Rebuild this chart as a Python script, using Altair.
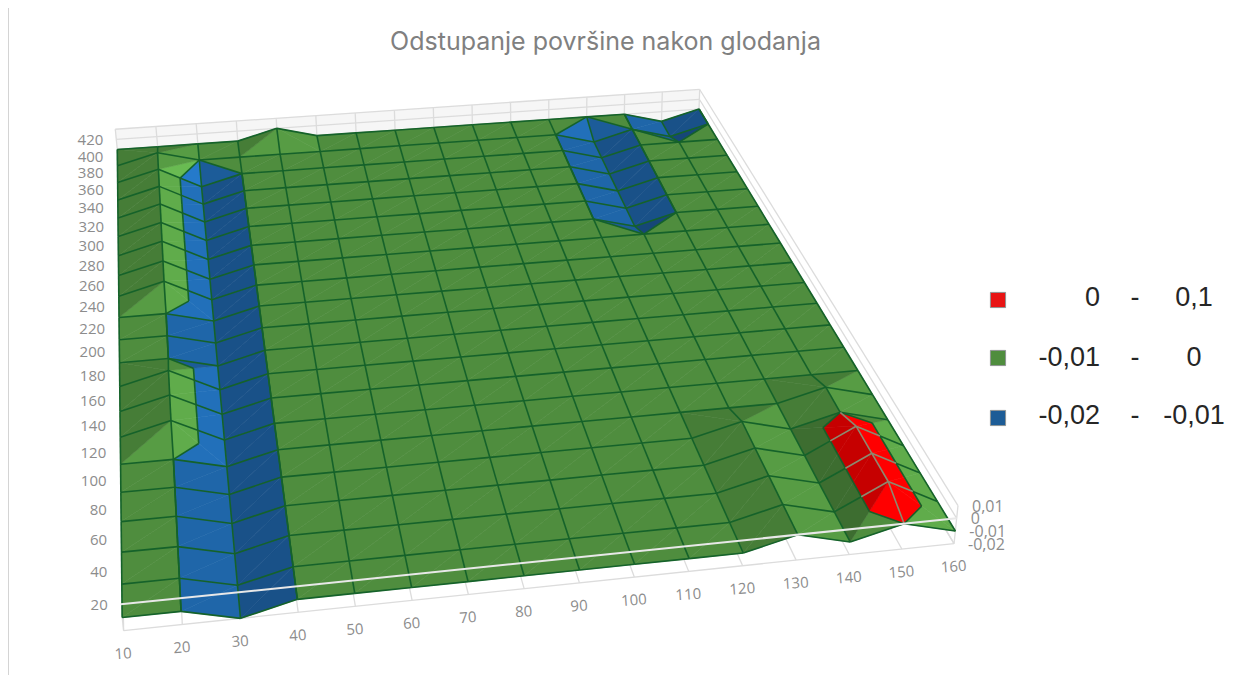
import altair as alt
import numpy as np

# ---------- data ----------
title_text = "Odstupanje površine nakon glodanja"
x_values = [10, 20, 30, 40, 50, 60, 70, 80, 90, 100, 110, 120, 130, 140, 150, 160]
y_values = [20, 40, 60, 80, 100, 120, 140, 160, 180, 200, 220, 240, 260, 280, 300, 320, 340, 360, 380, 400, 420]
z_ticks = [0.01, 0, -0.01, -0.02]
z_labels = ["0,01", "0", "-0,01", "-0,02"]
legend_low = ["0", "-0,01", "-0,02"]
legend_high = ["0,1", "0", "-0,01"]

# deviation in hundredths of a unit: columns x=10..160, one row per y (20 first)
z_020 = [-1, -1, -2, -1, -1, -1, -1, -1, -1, -1, -1, -1, 0, -1, 0, -1]
z_040 = [-1, -1, -2, -1, -1, -1, -1, -1, -1, -1, -1, -1, 0, -1, 1, -1]
z_060 = [-1, -1, -2, -1, -1, -1, -1, -1, -1, -1, -1, -1, 0, -1, 1, -1]
z_080 = [-1, -1, -2, -1, -1, -1, -1, -1, -1, -1, -1, -1, 0, -1, 1, -1]
z_100 = [-1, -1, -2, -1, -1, -1, -1, -1, -1, -1, -1, -1, 0, -1, 0, -1]
z_120 = [-1, -1, -2, -1, -1, -1, -1, -1, -1, -1, -1, -1, -1, -1, 0, -1]
z_140 = [-1, 0, -2, -1, -1, -1, -1, -1, -1, -1, -1, -1, -1, -1, -1, -1]
z_160 = [-1, 0, -2, -1, -1, -1, -1, -1, -1, -1, -1, -1, -1, -1, -1, -1]
z_180 = [-1, 0, -2, -1, -1, -1, -1, -1, -1, -1, -1, -1, -1, -1, -1, -1]
z_200 = [-1, -1, -2, -1, -1, -1, -1, -1, -1, -1, -1, -1, -1, -1, -1, -1]
z_220 = [-1, -1, -2, -1, -1, -1, -1, -1, -1, -1, -1, -1, -1, -1, -1, -1]
z_240 = [-1, -1, -2, -1, -1, -1, -1, -1, -1, -1, -1, -1, -1, -1, -1, -1]
z_260 = [-1, 0, -2, -1, -1, -1, -1, -1, -1, -1, -1, -1, -1, -1, -1, -1]
z_280 = [-1, 0, -2, -1, -1, -1, -1, -1, -1, -1, -1, -1, -1, -1, -1, -1]
z_300 = [-1, 0, -2, -1, -1, -1, -1, -1, -1, -1, -1, -1, -2, -1, -1, -1]
z_320 = [-1, 0, -2, -1, -1, -1, -1, -1, -1, -1, -1, -1, -2, -1, -1, -1]
z_340 = [-1, 0, -2, -1, -1, -1, -1, -1, -1, -1, -1, -1, -2, -1, -1, -1]
z_360 = [-1, 0, -2, -1, -1, -1, -1, -1, -1, -1, -1, -1, -2, -1, -1, -1]
z_380 = [-1, 0, -2, -1, -1, -1, -1, -1, -1, -1, -1, -1, -2, -1, -1, -1]
z_400 = [-1, 0, -1, -1, -1, -1, -1, -1, -1, -1, -1, -1, -2, -1, -2, -1]
z_420 = [-1, -1, -1, -1, 0, -1, -1, -1, -1, -1, -1, -1, -1, -1, -2, -1]
z_rows = [z_020, z_040, z_060, z_080, z_100, z_120, z_140, z_160, z_180, z_200, z_220,
          z_240, z_260, z_280, z_300, z_320, z_340, z_360, z_380, z_400, z_420]

# ---------- perspective camera, fitted to sighted (column, row, z) -> page pixel pairs ----------
sight_3d = [(0, 0, -2), (0, 0, 0), (15, 0, -2), (15, 0, 1), (15, 20, 1), (15, 20, -1), (0, 20, 1), (0, 20, -1),
            (1, 0, -1), (3, 0, -1), (2, 0, -2), (1, 5, -1), (12, 20, -1), (14, 20, -2), (13, 0, -1), (11, 0, -1),
            (12, 14, -2), (1, 19, 0)]
sight_px = [(124, 630), (122, 605), (955, 543), (958, 505), (700, 89), (698, 109), (115, 129), (117, 149),
            (181, 612), (297, 600), (240, 618), (173, 459), (587, 118), (662, 122), (850, 543), (742, 553),
            (635, 225), (158, 153)]
A, b = [], []
for (i, j, k), (u, v) in zip(sight_3d, sight_px):
    A.append([i, j, k, 1, 0, 0, 0, 0, -u * i, -u * j, -u * k]); b.append(u)
    A.append([0, 0, 0, 0, i, j, k, 1, -v * i, -v * j, -v * k]); b.append(v)
sol = np.linalg.lstsq(np.array(A, float), np.array(b, float), rcond=None)[0]
P = np.append(sol, 1.0).reshape(3, 4)


def project(i, j, k):
    p = P @ np.array([i, j, k, 1.0])
    return float(p[0] / p[2]) - 8, float(p[1] / p[2]) - 8


# ---------- surface: split cells, cut into colour bands ----------
bands = [(-99, -1, (28.5, 92, 153)), (-1, 0, (79, 141, 62)), (0, 99, (255, 0, 0))]


def clip(poly, level, keep_above):
    out = []
    for n, p in enumerate(poly):
        q = poly[(n + 1) % len(poly)]
        pin = p[2] >= level if keep_above else p[2] <= level
        qin = q[2] >= level if keep_above else q[2] <= level
        if pin:
            out.append(p)
        if pin != qin and p[2] != level and q[2] != level:
            t = (level - p[2]) / (q[2] - p[2])
            out.append(tuple(p[m] + t * (q[m] - p[m]) for m in range(3)))
    return out


def shade(rgb, f):
    return "#%02x%02x%02x" % tuple(int(min(255, max(0, c * f))) for c in rgb)


features = []
seg_id = 0
lines = []


def add_line(points, colour, group):
    global seg_id
    seg_id += 1
    for o, pt in enumerate(points):
        x, y = project(*pt)
        lines.append({"id": seg_id, "o": o, "px": x, "py": y, "c": colour, "g": group})


contours = []
for j in range(len(y_values) - 2, -1, -1):
    for i in range(len(x_values) - 2, -1, -1):
        a = (i, j, z_rows[j][i]); b_ = (i + 1, j, z_rows[j][i + 1])
        c = (i + 1, j + 1, z_rows[j + 1][i + 1]); d = (i, j + 1, z_rows[j + 1][i])
        if a[2] + c[2] >= b_[2] + d[2]:
            tris = [(a, b_, c), (a, c, d)]
        else:
            tris = [(a, b_, d), (b_, c, d)]
        for tri in tris:
            # plane gradient of the triangle
            M = np.array([[t[0], t[1], 1.0] for t in tri])
            gx, gy, _ = np.linalg.solve(M, np.array([t[2] for t in tri], float))
            f = 1 - 0.11 * (gx - gy)
            zs = [t[2] for t in tri]
            for lo, hi, rgb in bands:
                if max(zs) == min(zs):
                    if lo != -1:
                        continue
                    piece = list(tri)
                else:
                    if max(zs) <= lo or min(zs) >= hi:
                        continue
                    piece = clip(clip(list(tri), lo, True), hi, False)
                if len(piece) < 3:
                    continue
                ring = [list(project(*p)) for p in piece]
                ring.append(ring[0])
                features.append({"type": "Feature", "properties": {"fill": shade(rgb, f)},
                                 "geometry": {"type": "Polygon", "coordinates": [ring]}})
                if lo != -1:
                    level = hi if lo == -99 else lo
                    for n, p in enumerate(piece):
                        q = piece[(n + 1) % len(piece)]
                        if p[2] == level and q[2] == level:
                            contours.append((p, q))

GRID_GREEN = "#15622a"
GRID_RED = "#8c8a70"


def add_edge(p, q):
    if p[2] > q[2]:
        p, q = q, p
    if p[2] < 0 < q[2]:
        t = -p[2] / (q[2] - p[2])
        m = tuple(p[n] + t * (q[n] - p[n]) for n in range(3))
        add_line([p, m], GRID_GREEN, "grid")
        add_line([m, q], GRID_RED, "grid")
    elif q[2] > 0:
        add_line([p, q], GRID_RED, "grid")
    else:
        add_line([p, q], GRID_GREEN, "grid")


for p, q in contours:
    add_line([p, q], GRID_GREEN, "grid")
for j in range(len(y_values)):
    for i in range(len(x_values) - 1):
        add_edge((i, j, z_rows[j][i]), (i + 1, j, z_rows[j][i + 1]))
for i in range(len(x_values)):
    for j in range(len(y_values) - 1):
        add_edge((i, j, z_rows[j][i]), (i, j + 1, z_rows[j + 1][i]))

# ---------- box behind the surface ----------
nx, ny = len(x_values) - 1, len(y_values) - 1
BOX = "#dcdcdc"
back_ring = [list(project(*p)) for p in [(0, ny, -2), (nx, ny, -2), (nx, ny, 1), (0, ny, 1)]]
back_ring.append(back_ring[0])
wall = [{"type": "Feature", "properties": {"fill": "#f6f6f6"},
         "geometry": {"type": "Polygon", "coordinates": [back_ring]}}]
for k in (-2, -1, 0, 1):
    add_line([(0, ny, k), (nx, ny, k)], BOX, "box")
    add_line([(nx, ny, k), (nx, 0, k)], BOX, "box")
for i in range(nx + 1):
    add_line([(i, ny, -2), (i, ny, 1)], BOX, "box")
    add_line([(i, 0, -2), (i, ny, -2)], BOX, "box")
add_line([(0, 0, -2), (nx, 0, -2)], BOX, "box")
add_line([(nx, 0, -2), (nx, 0, 1)], BOX, "box")
add_line([(0, 0, -2), (0, 0, -1)], BOX, "box")
add_line([(0, 0, 0), (nx, 0, 0)], "#e8e8e8", "front")

# ---------- chart ----------
W, H = 1223, 667
sx = alt.Scale(domain=[0, W], range=[0, W])
sy = alt.Scale(domain=[0, H], range=[0, H])
X = alt.X("px:Q", scale=sx, axis=None)
Y = alt.Y("py:Q", scale=sy, axis=None)


def polys(values):
    return alt.Chart(alt.Data(values=values)).mark_geoshape(strokeWidth=0.6).encode(
        fill=alt.Fill("properties.fill:N", scale=None),
        stroke=alt.Stroke("properties.fill:N", scale=None),
    ).project(type="identity", scale=1, translate=[0, 0])


def line_layer(group, width):
    vals = [r for r in lines if r["g"] == group]
    return alt.Chart(alt.Data(values=vals)).mark_line(strokeWidth=width, interpolate="linear").encode(
        x=X, y=Y, detail="id:N", order="o:Q", color=alt.Color("c:N", scale=None))


GREY = "#8c8c8c"
LABEL_FONT = "Open Sans"
x_tx = [dict(zip(("px", "py"), project(i, 0, -2)), t=str(v)) for i, v in enumerate(x_values)]
y_tx = [dict(zip(("px", "py"), project(0, j, 0)), t=str(v)) for j, v in enumerate(y_values)]
z_tx = [dict(zip(("px", "py"), project(nx, 0, v * 100)), t=l) for v, l in zip(z_ticks, z_labels)]


def text_layer(values, **kw):
    return alt.Chart(alt.Data(values=values)).mark_text(**kw).encode(x=X, y=Y, text="t:N")


x_text = text_layer(x_tx, font=LABEL_FONT, fontSize=15, color=GREY, dy=23, dx=-2, angle=356)
y_text = text_layer(y_tx, font=LABEL_FONT, fontSize=15, color=GREY, dx=-13, dy=1, align="right")
z_text = text_layer(z_tx, font=LABEL_FONT, fontSize=16, color=GREY, dx=14, dy=1, align="left")
title = text_layer([{"px": 605.5 - 8, "py": 42 - 8, "t": title_text}], font="Inter", fontSize=25,
                   fontWeight=400, color="#808080")

frame = alt.Chart(alt.Data(values=[{"px": 0.5, "py": 0}, {"px": 0.5, "py": H}])).mark_line(
    color="#d4d4d4", strokeWidth=1).encode(x=X, y=Y)

legend_colors = ["#e81414", "#4f8d3e", "#1d5c96"]
rows_y = [300 - 8, 358 - 8, 418 - 8]
text_y = [298 - 8, 358 - 8, 416 - 8]
legend_sq = alt.Chart(alt.Data(values=[{"px": 998 - 8, "py": y, "c": c} for y, c in zip(rows_y, legend_colors)])).mark_square(
    size=230, opacity=1, stroke="#8f9494", strokeWidth=1).encode(x=X, y=Y, fill=alt.Fill("c:N", scale=None))
legend_lo = text_layer([{"px": 1100 - 8, "py": y, "t": t} for y, t in zip(text_y, legend_low)],
                       font="Liberation Sans", fontSize=27, color="#262626", align="right")
legend_dash = text_layer([{"px": 1135 - 8, "py": y, "t": "-"} for y in text_y],
                         font="Liberation Sans", fontSize=27, color="#262626")
legend_hi = text_layer([{"px": 1194 - 8, "py": y, "t": t} for y, t in zip(text_y, legend_high)],
                       font="Liberation Sans", fontSize=27, color="#262626")

chart = alt.layer(
    frame, polys(wall), line_layer("box", 1.3), polys(features), line_layer("grid", 1.6),
    line_layer("front", 2), x_text, y_text, z_text, title, legend_sq, legend_lo, legend_dash, legend_hi,
).properties(width=W, height=H, padding=0, autosize=alt.AutoSizeParams(type="none")).configure_view(stroke=None)

chart.save("out.html", embed_options={"renderer": "svg", "actions": False})
